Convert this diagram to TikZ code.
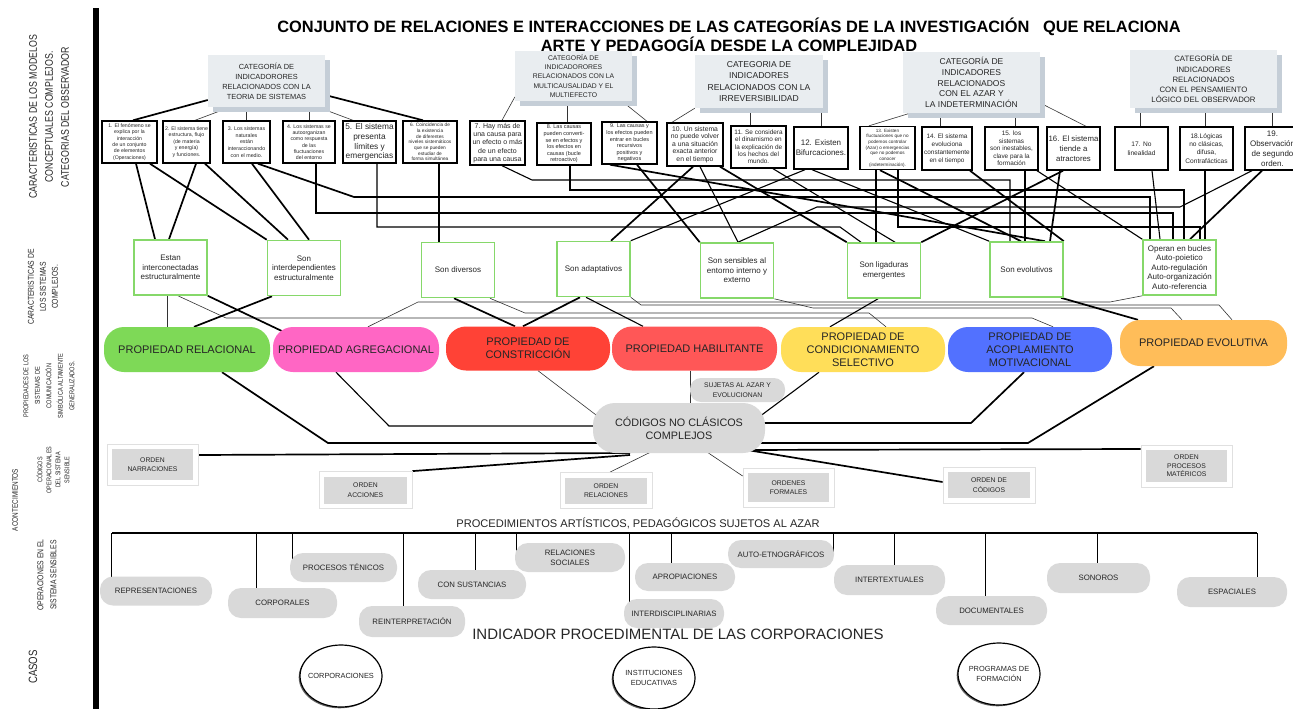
\documentclass[tikz,border=0pt]{standalone}
\usepackage{fontspec}
\setmainfont{Liberation Sans}
\newfontfamily\narrowsf[FakeStretch=0.8]{Liberation Sans}
\usetikzlibrary{shapes.geometric,shadows,backgrounds}
\newcommand{\fsz}[2]{\fontsize{#1}{#2}\selectfont}

\definecolor{catfill}{HTML}{E9EDF0}
\definecolor{catshade}{HTML}{C5CED7}
\definecolor{grnline}{HTML}{86D86A}
\definecolor{pillgray}{HTML}{D9D9D9}
\definecolor{framegray}{HTML}{E0E0E0}
\definecolor{txt}{HTML}{262626}
\definecolor{pRel}{HTML}{7ED957}
\definecolor{pAgr}{HTML}{FF66C4}
\definecolor{pCon}{HTML}{FF4236}
\definecolor{pHab}{HTML}{FF5757}
\definecolor{pSel}{HTML}{FFDE59}
\definecolor{pMot}{HTML}{5271FF}
\definecolor{pEvo}{HTML}{FFBD59}

\tikzset{
  catbox/.style={fill=catfill, align=center, inner sep=1pt, text=txt,
    drop shadow={shadow xshift=5pt, shadow yshift=-5pt, fill=catshade, opacity=1}},
  indbox/.style={draw=black, line width=1.4pt, fill=white, align=center, inner sep=1pt, text=txt},
  grnbox/.style={draw=grnline, line width=1.6pt, fill=white, align=center, inner sep=1pt,
    minimum width=73pt, minimum height=55pt, text=txt, font=\fsz{8}{9.6}},
  propbox/.style={rounded corners=20pt, minimum height=45pt, align=center, inner sep=1pt,
    text=txt, font=\fsz{11}{12.8}},
  pill/.style={fill=pillgray, rounded corners=13pt, align=center, inner sep=1pt, text=txt,
    font=\fsz{7.8}{10}},
  ordbox/.style={draw=framegray, line width=0.8pt, fill=white, align=center, text=txt,
    font=\fsz{6.8}{9.5},
    path picture={\fill[pillgray] ([shift={(5pt,5pt)}]path picture bounding box.south west)
      rectangle ([shift={(-5pt,-5pt)}]path picture bounding box.north east);}},
  casebox/.style={ellipse, draw=black, line width=1.2pt, fill=white,
    minimum width=82pt, minimum height=62pt, inner sep=0pt,
    drop shadow={shadow xshift=-1.3pt, shadow yshift=-1.3pt, opacity=0.6, fill=black}},
  casetext/.style={align=center, text=txt, font=\fsz{7.4}{10}},
  sidelabel/.style={rotate=90, align=center, text=txt},
  thk/.style={line width=1.7pt},
  mid/.style={line width=1.1pt},
  thn/.style={line width=0.6pt, draw=black!80},
  drop/.style={line width=1pt},
}

\begin{document}
\begin{tikzpicture}[x=1pt,y=-1pt]
\useasboundingbox (0,0) rectangle (1293,709);

% ---------- titles and left margin ----------
\node[font=\bfseries\fsz{16.4}{18}, text=black] (title1) at (729,27)
  {CONJUNTO DE RELACIONES E INTERACCIONES DE LAS CATEGORÍAS DE LA INVESTIGACIÓN\ \ \ QUE RELACIONA};
\node[font=\bfseries\fsz{16.4}{18}, text=black] (title2) at (729,44)
  {ARTE Y PEDAGOGÍA DESDE LA COMPLEJIDAD};
\fill[black] (93,8) rectangle (99,709);

\node[sidelabel, font=\narrowsf\fsz{11}{16}] (lab1) at (49,117)
  {CARACTERISTICAS DE LOS MODELOS\\CONCEPTUALES COMPLEJOS.\\CATEGORIAS DEL OBSERVADOR};
\node[sidelabel, font=\narrowsf\fsz{8.5}{12}] (lab2) at (43,287)
  {CARACTERISTICAS DE\\LOS SISTEMAS\\COMPLEJOS.};
\node[sidelabel, font=\narrowsf\fsz{7}{11.5}] (lab3) at (49,386)
  {PROPIEDADES DE LOS\\SISTEMAS DE\\COMUNICACIÓN\\SIMBÓLICA ALTAMENTE\\GENERALIZADOS.};
\node[sidelabel, font=\narrowsf\fsz{8}{10}] (lab4) at (15,500) {ACONTECIMIENTOS};
\node[sidelabel, font=\narrowsf\fsz{6.8}{9}] (lab5) at (53,470)
  {CÓDIGOS\\OPERACIONALES\\DEL SISTEMA\\SENSIBLE};
\node[sidelabel, font=\narrowsf\fsz{8.5}{13}] (lab6) at (47,575)
  {OPERACIONES EN EL\\SISTEMA SENSIBLES};
\node[sidelabel, font=\narrowsf\fsz{12}{14}] (lab7) at (33,667) {CASOS};

% ---------- categories ----------
\node[catbox, minimum width=117pt, minimum height=52pt, font=\fsz{7.4}{10}] (cat1) at (266.5,81)
  {CATEGORÍA DE\\INDICADORORES\\RELACIONADOS CON LA\\TEORIA DE SISTEMAS};
\node[catbox, minimum width=117pt, minimum height=50pt, font=\fsz{6.8}{9.3}] (cat2) at (573.5,76)
  {CATEGORÍA DE\\INDICADORORES\\RELACIONADOS CON LA\\MULTICAUSALIDAD Y EL\\MULTIEFECTO};
\node[catbox, minimum width=128pt, minimum height=53pt, font=\fsz{8.6}{11.5}] (cat3) at (759,81.5)
  {CATEGORIA DE\\INDICADORES\\RELACIONADOS CON LA\\IRREVERSIBILIDAD};
\node[catbox, minimum width=137pt, minimum height=61pt, font=\fsz{8.5}{10.6}] (cat4) at (971.5,82.5)
  {CATEGORÍA DE\\INDICADORES\\RELACIONADOS\\CON EL AZAR Y\\LA INDETERMINACIÓN};
\node[catbox, minimum width=147pt, minimum height=58pt, font=\fsz{7.8}{10.3}] (cat5) at (1203.5,79)
  {CATEGORÍA DE\\INDICADORES\\RELACIONADOS\\CON EL PENSAMIENTO\\LÓGICO DEL OBSERVADOR};

% ---------- indicators ----------
\node[indbox, minimum width=55pt, minimum height=42pt, font=\fsz{5.2}{6.4}] (b1) at (129.5,142)
  {1. El fenómeno se\\explica por la\\interacción\\de un conjunto\\de elementos\\(Operaciones)};
\node[indbox, minimum width=47pt, minimum height=42pt, font=\fsz{5.2}{6.6}] (b2) at (186.5,142)
  {2. El sistema tiene\\estructura, flujo\\(de materia\\y energía)\\y funciones.};
\node[indbox, minimum width=47pt, minimum height=42pt, font=\fsz{5.3}{6.8}] (b3) at (246.5,142)
  {3. Los sistemas\\naturales\\están\\interaccionando\\con el medio.};
\node[indbox, minimum width=52pt, minimum height=42pt, font=\fsz{5.2}{6.3}] (b4) at (309,142)
  {4. Los sistemas se\\autoorganizan\\como respuesta\\de las\\fluctuaciones\\del entorno};
\node[indbox, minimum width=53pt, minimum height=42pt, font=\fsz{8.3}{9.8}] (b5) at (369.5,142)
  {5. El sistema\\presenta\\límites y\\emergencias};
\node[indbox, minimum width=54pt, minimum height=42pt, font=\fsz{4.8}{5.7}] (b6) at (430,142)
  {6. Coincidencia de\\la existencia\\de diferentes\\niveles sistemáticos\\que se pueden\\estudiar de\\forma simultánea};
\node[indbox, minimum width=55pt, minimum height=44pt, font=\fsz{7}{8.3}] (b7) at (497.5,143)
  {7. Hay más de\\una causa para\\un efecto o más\\de un efecto\\para una causa};
\node[indbox, minimum width=54pt, minimum height=42pt, font=\fsz{5.5}{6.6}] (b8) at (564,144)
  {8. Las causas\\pueden converti-\\se en efectos y\\los efectos en\\causas (bucle\\retroactivo)};
\node[indbox, minimum width=55pt, minimum height=42pt, font=\fsz{5.5}{6.6}] (b9) at (629.5,143)
  {9. Las causas y\\los efectos pueden\\entrar en bucles\\recursivos\\positivos y\\negativos};
\node[indbox, minimum width=56pt, minimum height=43pt, font=\fsz{6.8}{7.6}] (b10) at (695,144.5)
  {10. Un sistema\\no puede volver\\a una situación\\exacta anterior\\en el tiempo};
\node[indbox, minimum width=55pt, minimum height=42pt, font=\fsz{6.4}{7.3}] (b11) at (758.5,147)
  {11. Se considera\\el dinamismo en\\la explicación de\\los hechos del\\mundo.};
\node[indbox, minimum width=54pt, minimum height=42pt, font=\fsz{8}{10}] (b12) at (821,148)
  {12. Existen\\Bifurcaciones.};
\node[indbox, minimum width=55pt, minimum height=43pt, font=\fsz{4.6}{5.7}] (b13) at (887.5,148)
  {13. Existen\\fluctuaciones que no\\podemos controlar\\(Azar) o emergencias\\que no podemos\\conocer\\(indeterminación).};
\node[indbox, minimum width=50pt, minimum height=43pt, font=\fsz{6.4}{8}] (b14) at (947,148.5)
  {14. El sistema\\evoluciona\\constantemente\\en el tiempo};
\node[indbox, minimum width=53pt, minimum height=43pt, font=\fsz{6.4}{7.6}] (b15) at (1011.5,148.5)
  {15. los\\sistemas\\son inestables,\\clave para la\\formación};
\node[indbox, minimum width=53pt, minimum height=43pt, font=\fsz{7.8}{10}] (b16) at (1073.5,148.5)
  {16. El sistema\\tiende a\\atractores};
\node[indbox, minimum width=53pt, minimum height=43pt, font=\fsz{6.6}{9}] (b17) at (1141.5,148.5)
  {17. No\\linealidad};
\node[indbox, minimum width=53pt, minimum height=43pt, font=\fsz{6.6}{8.2}] (b18) at (1206.5,148.5)
  {18.Lógicas\\no clásicas,\\difusa,\\Contrafácticas};
\node[indbox, minimum width=55pt, minimum height=43pt, font=\fsz{8}{10}] (b19) at (1272.5,148.5)
  {19.\\Observación\\de segundo\\orden.};

% ---------- complex-system features ----------
\node[grnbox] (g1) at (170.5,267.5) {Estan\\interconectadas\\estructuralmente};
\node[grnbox] (g2) at (304,268) {Son\\interdependientes\\estructuralmente};
\node[grnbox] (g3) at (458,270) {Son diversos};
\node[grnbox] (g4) at (593.5,269) {Son adaptativos};
\node[grnbox] (g5) at (737,270.5) {Son sensibles al\\entorno interno y\\externo};
\node[grnbox] (g6) at (884,270.5) {Son ligaduras\\emergentes};
\node[grnbox] (g7) at (1026.5,269.5) {Son evolutivos};
\node[grnbox] (g8) at (1179.5,267.5) {Operan en bucles\\Auto-poietico\\Auto-regulación\\Auto-organización\\Auto-referencia};

% ---------- properties ----------
\node[propbox, fill=pRel, minimum width=166pt] (p1) at (187,349.5) {PROPIEDAD RELACIONAL};
\node[propbox, fill=pAgr, minimum width=166pt] (p2) at (356,349.5) {PROPIEDAD AGREGACIONAL};
\node[propbox, fill=pCon, minimum width=164pt, minimum height=44pt] (p3) at (528,348.5) {PROPIEDAD DE\\CONSTRICCIÓN};
\node[propbox, fill=pHab, minimum width=165pt, minimum height=44pt] (p4) at (694.5,348.5) {PROPIEDAD HABILITANTE};
\node[propbox, fill=pSel, minimum width=164pt] (p5) at (863,349.5) {PROPIEDAD DE\\CONDICIONAMIENTO\\SELECTIVO};
\node[propbox, fill=pMot, minimum width=164pt] (p6) at (1030,349.5) {PROPIEDAD DE\\ACOPLAMIENTO\\MOTIVACIONAL};
\node[propbox, fill=pEvo, minimum width=167pt, minimum height=46pt] (p7) at (1203.5,343) {PROPIEDAD EVOLUTIVA};

\node[pill, rounded corners=11pt, minimum width=95pt, minimum height=24pt, font=\fsz{6.8}{9.5}] (azar) at (737.5,390)
  {SUJETAS AL AZAR Y\\EVOLUCIONAN};
\node[fill=pillgray, rounded corners=22pt, minimum width=172pt, minimum height=50pt, align=center,
  text=txt, font=\fsz{10.8}{13}] (codes) at (679,428) {CÓDIGOS NO CLÁSICOS\\COMPLEJOS};

% ---------- operational codes ----------
\node[ordbox, minimum width=91pt, minimum height=41pt] (o1) at (152.5,464.5) {ORDEN\\NARRACIONES};
\node[ordbox, minimum width=93pt, minimum height=37pt] (o2) at (365.5,490) {ORDEN\\ACCIONES};
\node[ordbox, minimum width=92pt, minimum height=36pt] (o3) at (606,490.5) {ORDEN\\RELACIONES};
\node[ordbox, minimum width=91pt, minimum height=39pt] (o4) at (788.5,487.5) {ORDENES\\FORMALES};
\node[ordbox, minimum width=92pt, minimum height=36pt] (o5) at (989,485) {ORDEN DE\\CÓDIGOS};
\node[ordbox, minimum width=91pt, minimum height=42pt, font=\fsz{6.8}{8.5}] (o6) at (1186.5,466) {ORDEN\\PROCESOS\\MATÉRICOS};

% ---------- procedures ----------
\node[font=\fsz{11.1}{12}, text=txt] (procT) at (638,523) {PROCEDIMIENTOS ARTÍSTICOS, PEDAGÓGICOS SUJETOS AL AZAR};
\coordinate (busL) at (112,533);
\coordinate (busR) at (1257,533);

\node[pill, minimum width=112pt, minimum height=29pt] (pRep) at (156,591) {REPRESENTACIONES};
\node[pill, minimum width=109pt, minimum height=30pt] (pCor) at (282.5,603) {CORPORALES};
\node[pill, minimum width=107pt, minimum height=29pt] (pTec) at (343.5,567.5) {PROCESOS TÉNICOS};
\node[pill, minimum width=106pt, minimum height=31pt] (pRei) at (412,621.5) {REINTERPRETACIÓN};
\node[pill, minimum width=108pt, minimum height=29pt] (pSus) at (472,584.5) {CON SUSTANCIAS};
\node[pill, minimum width=110pt, minimum height=29pt] (pSoc) at (570,557.5) {RELACIONES\\SOCIALES};
\node[pill, minimum width=100pt, minimum height=29pt] (pInt) at (674,613.5) {INTERDISCIPLINARIAS};
\node[pill, minimum width=100pt, minimum height=28pt] (pApr) at (685,577) {APROPIACIONES};
\node[pill, minimum width=106pt, minimum height=28pt] (pEtn) at (781,554) {AUTO-ETNOGRÁFICOS};
\node[pill, minimum width=111pt, minimum height=30pt] (pTxt) at (889.5,580) {INTERTEXTUALES};
\node[pill, minimum width=111pt, minimum height=29pt] (pDoc) at (991.5,610.5) {DOCUMENTALES};
\node[pill, minimum width=103pt, minimum height=30pt] (pSon) at (1098.5,578) {SONOROS};
\node[pill, minimum width=110pt, minimum height=30pt] (pEsp) at (1232,592) {ESPACIALES};

% ---------- cases ----------
\node[font=\fsz{15}{16}, text=txt] (indT) at (678,634) {INDICADOR PROCEDIMENTAL DE LAS CORPORACIONES};
\node[casebox] (cCorp) at (341,676) {};
\node[casetext] (cCorpT) at (cCorp) {CORPORACIONES};
\node[casebox] (cInst) at (654,678) {};
\node[casetext] (cInstT) at (cInst) {INSTITUCIONES\\EDUCATIVAS};
\node[casebox] (cProg) at (999,674) {};
\node[casetext] (cProgT) at (cProg) {PROGRAMAS DE\\FORMACIÓN};

% ================= connectors (behind the boxes) =================
\begin{pgfonlayer}{background}
\fill[white] (0,0) rectangle (1293,709);

% categories to indicators
\draw[thk] (cat1.west |- 0,100) -- (133,0 |- b1.north);
\draw[thn] (230,0 |- cat1.south) -- (195,0 |- b2.north);
\draw[thn] (b3.north) -- (cat1.south -| b3.north);
\draw[thn] (b4.north) -- (cat1.south -| b4.north);
\draw[thn] (318,0 |- cat1.south) -- (353,0 |- b5.north);
\draw[thk] (cat1.east |- 0,95) -- (423,0 |- b6.north);
\draw[thn] (cat2.west |- 0,97) -- (502,0 |- b7.north);
\draw[thn] (567,0 |- b8.north) -- (567,0 |- cat2.south);
\draw[thn] (622,0 |- cat2.south) -- (647,0 |- b9.north);
\draw[thn] (cat3.south west) -- (672,0 |- b10.north);
\draw[thn] (750,0 |- b11.north) -- (750,0 |- cat3.south);
\draw[thn] (b12.north) -- (cat3.south -| b12.north);
\draw[thn] (910,0 |- cat4.south) -- (869,0 |- b13.north);
\draw[thn] (940,0 |- b14.north) -- (940,0 |- cat4.south);
\draw[thn] (1015,0 |- b15.north) -- (1015,0 |- cat4.south);
\draw[thn] (cat4.east |- 0,103) -- (1086,0 |- b16.north);
\draw[thn] (1140,0 |- b17.north) -- (1140,0 |- cat5.south);
\draw[thn] (1205,0 |- b18.north) -- (1205,0 |- cat5.south);
\draw[thn] (1272,0 |- b19.north) -- (1272,0 |- cat5.south);

% indicators to complex-system features
\draw[thk] (136,0 |- b1.south) -- (155,0 |- g1.north);
\draw[thk] (196,0 |- b2.south) -- (169,0 |- g1.north);
\draw[thk] (150,0 |- b1.south) -- (g2.north west);
\draw[thk] (205,0 |- b2.south) -- (288,0 |- g2.north);
\draw[thk] (252,0 |- b3.south) -- (309,0 |- g2.north);
\draw[thk] (258,0 |- b3.south) -- (354,197) -- (1150,197) -- (1150,0 |- g8.north);
\draw[mid] (316,0 |- b4.south) -- (316,213) -- (1173,213) -- (1173,0 |- g8.north);
\draw[mid] (377,0 |- b5.south) -- (377,227) -- (840,227) -- (861,0 |- g6.north);
\draw[thk] (439,0 |- b6.south) -- (439,0 |- g3.north);
\draw[mid] (502,0 |- b7.south) -- (532,180) -- (1010,180) -- (1010,0 |- g7.north);
\draw[mid] (570,0 |- b8.south) -- (570,190) -- (1184,190) -- (1184,0 |- g8.north);
\draw[thk] (637,0 |- b9.south) -- (g5.north west);
\draw[thk] (610,0 |- b9.south) -- (1045,0 |- g7.north);
\draw[thk] (693,0 |- b10.south) -- (611,0 |- g4.north);
\draw[mid] (700,0 |- b10.south) -- (738,0 |- g5.north);
\draw[thk] (720,0 |- b10.south) -- (g6.north west);
\draw[mid] (773,0 |- b11.south) -- (895,0 |- g6.north);
\draw[mid] (805,0 |- b12.south) -- (g4.north east);
\draw[mid] (812,0 |- b12.south) -- (g7.north west);
\draw[thk] (880,0 |- b13.south) -- (1021,0 |- g7.north);
\draw[thk] (876,0 |- b13.south) -- (876,0 |- g6.north);
\draw[mid] (898,0 |- b13.south) -- (898,227) -- (1200,227) -- (1200,0 |- g8.north);
\draw[thk] (970,0 |- b14.south) -- (g7.north east);
\draw[thk] (1025,0 |- b15.south) -- (1025,0 |- g7.north);
\draw[mid] (1037,0 |- b15.south) -- (g8.north west);
\draw[thk] (1063,0 |- b16.south) -- (g6.north east);
\draw[thk] (1060,0 |- b16.south) -- (1050,0 |- g7.north);
\draw[mid] (1152,0 |- b17.south) -- (1160,0 |- g8.north);
\draw[thk] (1205,0 |- b18.south) -- (1205,0 |- g8.north);
\draw[thk] (1262,0 |- b19.south) -- (1190,0 |- g8.north);
\draw[mid] (1252,0 |- b19.south) -- (1180,207) -- (817,207) -- (738,0 |- g5.north);

% features to properties
\draw[thn] (167,0 |- g1.south) -- (167,0 |- p1.north);
\draw[thn] (178,0 |- g1.south) -- (226,318) -- (1032,318) -- (1053,0 |- p6.north);
\draw[thk] (g1.south east) -- (286,333);
\draw[thk] (272,0 |- g2.south) -- (194,0 |- p1.north);
\draw[thn] (368,0 |- p2.north) -- (418,302) -- (1110,302) -- (g8.south west);
\draw[thk] (454,0 |- g3.south) -- (515,0 |- p3.north);
\draw[thn] (490,0 |- g3.south) -- (525,313) -- (869,313) -- (886,0 |- p5.north);
\draw[thk] (580,0 |- g4.south) -- (523,0 |- p3.north);
\draw[mid] (586,0 |- g4.south) -- (643,0 |- p4.north);
\draw[thn] (g4.south east) -- (641,305) -- (1219,305) -- (1232,0 |- p7.north);
\draw[thn] (g5.south east) -- (813,308) -- (1171,308) -- (1182,0 |- p7.north);
\draw[mid] (878,0 |- g6.south) -- (830,0 |- p5.north);
\draw[thk] (1061,0 |- g7.south) -- (1138,0 |- p7.north);

% properties to the non-classical codes
\draw[thk] (222,0 |- p1.south) -- (328,443) -- (codes.center |- 0,443);
\draw[mid] (336,0 |- p2.south) -- (389,426) -- (codes.center |- 0,426);
\draw[thn] (538,0 |- p3.south) -- (600,418);
\draw[thn] (690,0 |- p4.south) -- (690,0 |- codes.center);
\draw[mid] (819,0 |- p5.south) -- (755,420);
\draw[thk] (1024,0 |- p6.south) -- (971,423) -- (codes.center |- 0,423);
\draw[thk] (1154,0 |- p7.south) -- (1028,443) -- (codes.center |- 0,443);

% codes to operational orders
\draw[thk] (630,453) -- (o1.east |- 0,455);
\draw[thk] (630,455) -- (o2.north east);
\draw[thn] (659,448) -- (610,0 |- o3.north);
\draw[thn] (701,448) -- (o4.west |- 0,476);
\draw[thk] (735,448) -- (o5.west |- 0,482);
\draw[thk] (735,450) -- (o6.west |- 0,449);

% procedures bus and drops
\draw[line width=2pt] (busL) -- (busR);
\draw[drop] (111,0 |- busL) -- (111,0 |- pRep.center);
\draw[drop] (256,0 |- busL) -- (256,0 |- pCor.center);
\draw[drop] (292,0 |- busL) -- (292,0 |- pTec.center);
\draw[drop] (403,0 |- busL) -- (403,0 |- pRei.center);
\draw[drop] (475,0 |- busL) -- (475,0 |- pSus.center);
\draw[drop] (516,0 |- busL) -- (516,0 |- pSoc.center);
\draw[drop] (629,0 |- busL) -- (629,0 |- pInt.center);
\draw[drop] (671,0 |- busL) -- (671,0 |- pApr.center);
\draw[drop] (833,0 |- busL) -- (833,0 |- pEtn.center);
\draw[drop] (894,0 |- busL) -- (894,0 |- pTxt.center);
\draw[drop] (985,0 |- busL) -- (985,0 |- pDoc.center);
\draw[drop] (1097,0 |- busL) -- (1097,0 |- pSon.center);
\draw[drop] (1257,0 |- busL) -- (1257,0 |- pEsp.center);
\end{pgfonlayer}
\end{tikzpicture}
\end{document}
